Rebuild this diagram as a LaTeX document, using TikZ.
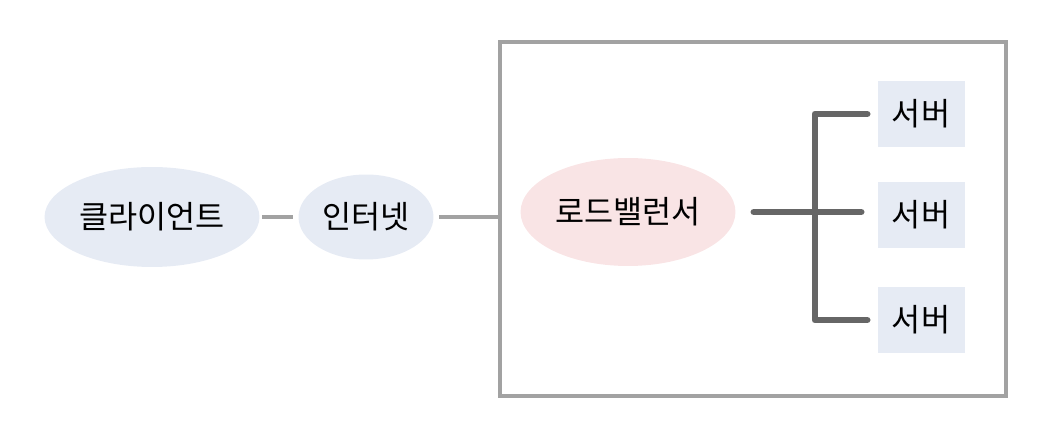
\documentclass[tikz,border=0pt]{standalone}
\usepackage{fontspec}
\setmainfont{Noto Sans CJK KR}
\usepackage{xcolor}
\usetikzlibrary{shapes.geometric,positioning,calc}
\definecolor{ovalbg}{HTML}{E6EBF4}
\definecolor{lbbg}{HTML}{F9E4E5}
\definecolor{thingray}{HTML}{A2A2A2}
\definecolor{busgray}{HTML}{666666}

\begin{document}
\begin{tikzpicture}[x=0.02cm,y=-0.02cm,
  oval/.style={ellipse,fill=ovalbg,inner sep=0pt,font=\fontsize{18}{21}\selectfont},
  lb/.style={ellipse,fill=lbbg,inner sep=0pt,minimum width=4.3cm,minimum height=2.16cm,font=\fontsize{18}{21}\selectfont},
  srv/.style={rectangle,fill=ovalbg,inner sep=0pt,minimum width=1.74cm,minimum height=1.32cm,font=\fontsize{18}{21}\selectfont},
  link/.style={draw=thingray,line width=2.2pt},
  bus/.style={draw=busgray,line width=3.8pt,line cap=round,line join=round}]
\useasboundingbox (0,0) rectangle (1047,448);
\draw[draw=thingray,line width=2pt] (500,42) rectangle (1006,396);
\node[oval,minimum width=4.3cm,minimum height=2cm] (client) at (152,217) {클라이언트};
\node[oval,minimum width=2.7cm,minimum height=1.7cm] (net) at (366,217) {인터넷};
\node[lb] (balancer) at (628,212) {로드밸런서};
\node[srv] (s1) at (921,114) {서버};
\node[srv] (s2) at (921,215) {서버};
\node[srv] (s3) at (921,320) {서버};
\coordinate (fork) at (815,212);
\draw[link,shorten <=0.04cm,shorten >=0.1cm] (client) -- (net);
\draw[link,shorten <=0.1cm] (net.east) -- (500,217);
\draw[bus,shorten <=0.36cm,shorten >=0.32cm] (balancer.east) -- (balancer.east -| s2.west);
\draw[bus,shorten <=0.2cm,shorten >=0.2cm] (s1.west) -| (fork) |- (s3.west);
\end{tikzpicture}
\end{document}
